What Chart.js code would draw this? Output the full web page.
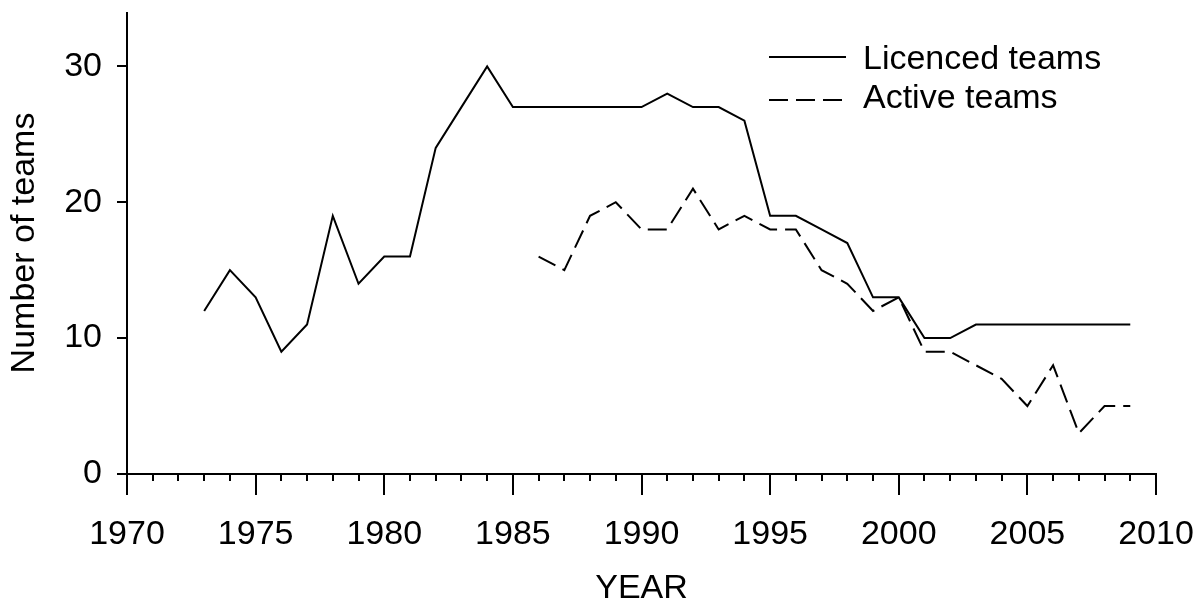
<!DOCTYPE html>
<html>
<head>
<meta charset="utf-8">
<script src="https://cdn.jsdelivr.net/npm/chart.js@4.4.1/dist/chart.umd.min.js"></script>
<style>
  html, body { margin: 0; padding: 0; background: #ffffff; }
  #wrap { width: 1202px; height: 601px; position: relative; }
</style>
</head>
<body>
<div id="wrap"><canvas id="teamsChart"></canvas></div>
<script>
// Yearly counts
const years = [1973, 1974, 1975, 1976, 1977, 1978, 1979, 1980, 1981, 1982,
  1983, 1984, 1985, 1986, 1987, 1988, 1989, 1990, 1991, 1992,
  1993, 1994, 1995, 1996, 1997, 1998, 1999, 2000, 2001, 2002,
  2003, 2004, 2005, 2006, 2007, 2008, 2009];
const licencedTeams = [12, 15, 13, 9, 11, 19, 14, 16, 16, 24,
  27, 30, 27, 27, 27, 27, 27, 27, 28, 27,
  27, 26, 19, 19, 18, 17, 13, 13, 10, 10,
  11, 11, 11, 11, 11, 11, 11];
const activeTeams = [null, null, null, null, null, null, null, null, null, null,
  null, null, null, 16, 15, 19, 20, 18, 18, 21,
  18, 19, 18, 18, 15, 14, 12, 13, 9, 9,
  8, 7, 5, 8, 3, 5, 5];
const seriesNames = ['Licenced teams', 'Active teams'];
const xTickValues = [1970, 1975, 1980, 1985, 1990, 1995, 2000, 2005, 2010];
const yTickValues = [0, 10, 20, 30];

const FONT = "'Liberation Sans', Arial, Helvetica, sans-serif";
const ACTIVE_DASH = [19, 8];

function toPoints(values) {
  return years.map((year, i) => ({ x: year, y: values[i] }));
}

// Axis lines, major/minor tick marks and the legend are drawn by hand
const axesAndLegend = {
  id: 'axesAndLegend',
  afterDraw(chart) {
    const ctx = chart.ctx;
    const xs = chart.scales.x;
    const ys = chart.scales.y;
    const x0 = xs.getPixelForValue(1970);
    const x1 = xs.getPixelForValue(2010);
    const y0 = ys.getPixelForValue(0);
    const yTop = chart.chartArea.top;

    ctx.save();
    ctx.strokeStyle = '#000000';
    ctx.lineWidth = 2;
    ctx.lineCap = 'butt';

    // y axis line + ticks
    ctx.beginPath();
    ctx.moveTo(x0, yTop);
    ctx.lineTo(x0, y0);
    yTickValues.forEach(v => {
      const py = Math.round(ys.getPixelForValue(v));
      ctx.moveTo(x0 - 10, py);
      ctx.lineTo(x0, py);
    });
    // x axis line + ticks (every year, longer every 5)
    ctx.moveTo(x0 - 10, y0);
    ctx.lineTo(x1 + 1, y0);
    for (let yr = 1970; yr <= 2010; yr++) {
      const px = Math.round(xs.getPixelForValue(yr));
      const len = yr % 5 === 0 ? 21 : 7;
      ctx.moveTo(px, y0);
      ctx.lineTo(px, y0 + len);
    }
    ctx.stroke();

    // legend
    const rows = [
      { lineY: 57, textY: 69, dash: [] },
      { lineY: 100, textY: 108, dash: ACTIVE_DASH }
    ];
    ctx.font = '34px ' + FONT;
    ctx.fillStyle = '#000000';
    ctx.textAlign = 'left';
    ctx.textBaseline = 'alphabetic';
    rows.forEach((row, i) => {
      ctx.setLineDash(row.dash);
      ctx.beginPath();
      ctx.moveTo(769, row.lineY);
      ctx.lineTo(846, row.lineY);
      ctx.stroke();
      ctx.setLineDash([]);
      ctx.fillText(seriesNames[i], 863, row.textY);
    });
    ctx.restore();
  }
};

const ctx = document.getElementById('teamsChart').getContext('2d');
new Chart(ctx, {
  type: 'line',
  data: {
    datasets: [
      {
        label: seriesNames[0],
        data: toPoints(licencedTeams),
        borderColor: '#000000',
        borderWidth: 2,
        pointRadius: 0,
        tension: 0,
        fill: false
      },
      {
        label: seriesNames[1],
        data: toPoints(activeTeams),
        borderColor: '#000000',
        borderWidth: 2,
        borderDash: ACTIVE_DASH,
        pointRadius: 0,
        tension: 0,
        fill: false
      }
    ]
  },
  options: {
    responsive: true,
    maintainAspectRatio: false,
    animation: false,
    layout: { padding: { top: 12, right: 46, left: 0, bottom: 0 } },
    plugins: {
      legend: { display: false },
      tooltip: { enabled: false }
    },
    elements: { line: { borderJoinStyle: 'miter', borderCapStyle: 'butt' } },
    scales: {
      x: {
        type: 'linear',
        min: 1970,
        max: 2010,
        grid: { display: false, drawTicks: false },
        border: { display: false },
        afterFit(scale) {
          scale.height = 127;
          scale.paddingLeft = 0;
          scale.paddingRight = 0;
        },
        afterBuildTicks(scale) { scale.ticks = xTickValues.map(v => ({ value: v })); },
        ticks: {
          color: '#000000',
          font: { family: FONT, size: 34 },
          padding: 40,
          maxRotation: 0,
          autoSkip: false,
          callback: v => String(v)
        },
        title: {
          display: true,
          text: 'YEAR',
          color: '#000000',
          font: { family: FONT, size: 34, lineHeight: 0.75 },
          padding: 0
        }
      },
      y: {
        type: 'linear',
        min: 0,
        max: 34,
        grid: { display: false, drawTicks: false },
        border: { display: false },
        afterFit(scale) {
          scale.width = 127;
          scale.paddingTop = 0;
          scale.paddingBottom = 0;
        },
        afterBuildTicks(scale) { scale.ticks = yTickValues.map(v => ({ value: v })); },
        ticks: {
          color: '#000000',
          font: { family: FONT, size: 34 },
          padding: 25,
          callback: v => String(v)
        },
        title: {
          display: true,
          text: 'Number of teams',
          color: '#000000',
          font: { family: FONT, size: 34 },
          padding: { top: 4 }
        }
      }
    }
  },
  plugins: [axesAndLegend]
});
</script>
</body>
</html>
